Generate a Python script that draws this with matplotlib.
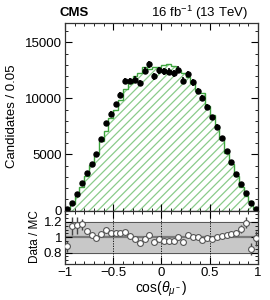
import numpy as np
import matplotlib
matplotlib.use("Agg")
import matplotlib.pyplot as plt
from matplotlib.ticker import MultipleLocator

plt.rcParams['font.family'] = ['Liberation Sans', 'DejaVu Sans']
plt.rcParams['mathtext.fontset'] = 'custom'
plt.rcParams['mathtext.rm'] = 'Liberation Sans'
plt.rcParams['mathtext.it'] = 'Liberation Sans:italic'
plt.rcParams['hatch.color'] = '#8acb8a'
plt.rcParams['hatch.linewidth'] = 0.9

# bin edges of cos(theta_mu-), 40 bins of 0.05
edges = np.linspace(-1, 1, 41)

# data counts per bin
data = [150, 710, 1490, 2440, 3370, 4170, 5000, 6420, 7760, 8650,
        9460, 10320, 11580, 11530, 11680, 11350, 12460, 13040, 11970, 12500,
        12420, 12380, 12220, 12560, 11580, 12190, 11420, 10680, 10050, 9250,
        8300, 7470, 6500, 5270, 4350, 3240, 2320, 1550, 690, 150]
data_err = [12, 75, 150, 140, 110, 100, 120, 150, 180, 200,
            220, 240, 260, 270, 280, 290, 300, 310, 310, 310,
            310, 310, 310, 310, 300, 290, 280, 270, 260, 240,
            220, 200, 180, 150, 120, 100, 110, 100, 65, 15]

# simulated (MC) prediction per bin
mc = [170, 620, 1290, 2090, 3110, 4060, 5030, 6190, 7110, 8230,
      9000, 9820, 10830, 11380, 12030, 12280, 12780, 12620, 12760, 12780,
      12980, 13060, 12900, 12520, 12280, 11900, 11330, 10650, 10460, 9280,
      8510, 7450, 6380, 5150, 4150, 3060, 2100, 1300, 820, 152]

data = np.array(data, dtype=float)
data_err = np.array(data_err, dtype=float)
mc = np.array(mc, dtype=float)
centers = 0.5 * (edges[:-1] + edges[1:])
ratio = data / mc
ratio_err = data_err / mc

fig = plt.figure(figsize=(2.7, 3.0), dpi=100)
ax = fig.add_axes([0.2407, 0.2983, 0.7148, 0.625])
axr = fig.add_axes([0.2407, 0.12, 0.7148, 0.1783], sharex=ax)

# main panel
ax.stairs(mc, edges, fill=True, hatch='////', facecolor='none',
          edgecolor='#8acb8a', linewidth=0)
ax.stairs(mc, edges, color='#3fa53f', linewidth=1.0)
ax.errorbar(centers, data, yerr=data_err, fmt='o', color='black',
            markersize=3.6, elinewidth=1.2, capsize=0, zorder=5)
ax.set_xlim(-1, 1)
ax.set_ylim(0, 16720)
ax.yaxis.set_major_locator(MultipleLocator(5000))
ax.yaxis.set_minor_locator(MultipleLocator(1000))
ax.tick_params(labelbottom=False)

# ratio panel
axr.axhspan(0.8, 1.2, color='#c8c8c8', zorder=0)
axr.axhline(1.2, color='#555555', linewidth=0.7, zorder=1)
axr.axhline(0.8, color='#555555', linewidth=0.7, zorder=1)
axr.axhline(1.0, color='#7a7a7a', linewidth=1.6, zorder=1)
for xv in [-0.5, 0, 0.5]:
    axr.axvline(xv, color='black', linestyle=(0, (1.5, 1.5)), linewidth=0.6, zorder=1)
axr.errorbar(centers, ratio, yerr=ratio_err, fmt='o', color='#444444',
             markerfacecolor='white', markeredgecolor='#555555',
             markersize=4.2, markeredgewidth=0.8, elinewidth=1.0, capsize=0, zorder=5)
axr.set_ylim(0.65, 1.35)
axr.set_yticks([0.8, 1.0, 1.2])
axr.set_yticklabels(['0.8', '1', '1.2'])
axr.yaxis.set_minor_locator(MultipleLocator(0.05))
axr.set_xticks([-1, -0.5, 0, 0.5, 1])
axr.set_xticklabels(['\u22121', '\u22120.5', '0', '0.5', '1'])
axr.xaxis.set_minor_locator(MultipleLocator(0.1))
axr.set_xlabel(r'cos($\theta_{\mu^-}$)', fontsize=10, labelpad=1)

for a in (ax, axr):
    a.tick_params(which='both', direction='in', top=True, right=True,
                  labelsize=9.5, pad=2)
    a.tick_params(which='major', length=5, width=0.8)
    a.tick_params(which='minor', length=2.5, width=0.6)
    for s in a.spines.values():
        s.set_linewidth(0.9)
        s.set_color('#333333')

fig.text(12 / 270, 1 - 116 / 300, 'Candidates / 0.05', rotation=90,
         ha='center', va='center', fontsize=9.5)
fig.text(35 / 270, 1 - 237 / 300, 'Data / MC', rotation=90,
         ha='center', va='center', fontsize=8.5)
fig.text(60 / 270, 1 - 13 / 300, 'CMS', fontweight='bold', fontsize=9.5,
         ha='left', va='center')
fig.text(248 / 270, 1 - 13 / 300, r'16 fb$^{\mathregular{-1}}$ (13 TeV)',
         fontsize=9.5, ha='right', va='center')

fig.savefig('out.png', dpi=100)
